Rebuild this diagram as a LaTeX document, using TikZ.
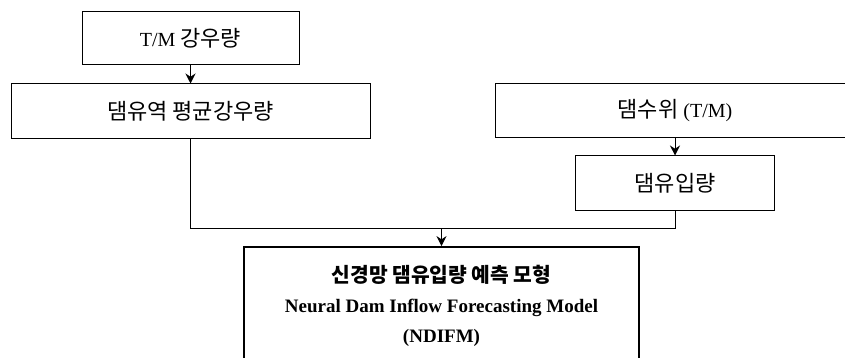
\documentclass[tikz,border=0pt]{standalone}
\usepackage{fontspec}
\setmainfont{Liberation Serif}
\newfontfamily\kr[Scale=1.1]{Noto Sans CJK KR}
\newfontfamily\krbig[Scale=1.07]{Noto Sans CJK KR}
\usetikzlibrary{arrows.meta}

\begin{document}
\begin{tikzpicture}[x=1pt,y=-1pt,
    box/.style={draw,line width=1pt,inner sep=0pt,font=\fontsize{20}{24}\selectfont},
    arr/.style={-{Stealth[length=10pt,width=10pt]}}]
        \useasboundingbox (0,0) rectangle (845,358);
        %rainfall
        \node[box,minimum width=217,minimum height=53] (tm) at (190.5,38.5){T/M {\kr 강우량}};
        \node[box,minimum width=359,minimum height=55] (avg) at (190.5,111.5){\kr 댐유역 평균강우량};
        %water level
        \node[box,minimum width=360,minimum height=54] (lvl) at (675,111){{\kr 댐수위} (T/M)};
        \node[box,minimum width=199,minimum height=54] (inflow) at (675,183){\kr 댐유입량};
        %model
        \node[box,line width=1.8pt,minimum width=395,minimum height=118,align=center,
              font=\fontsize{19}{30}\selectfont\bfseries] (ndifm) at (441.5,306)
              {{\krbig 신경망 댐유입량 예측 모형}\\Neural Dam Inflow Forecasting Model\\(NDIFM)};
        \coordinate (join) at (441.5,228);
        \draw[line width=1pt,arr] (tm)--(avg);
        \draw[line width=1pt,arr] (lvl)--(inflow);
        \draw[line width=1pt] (avg.south) |- (join) (inflow.south) |- (join);
        \draw[line width=1pt,arr] (join)--(ndifm);
\end{tikzpicture}
\end{document}
